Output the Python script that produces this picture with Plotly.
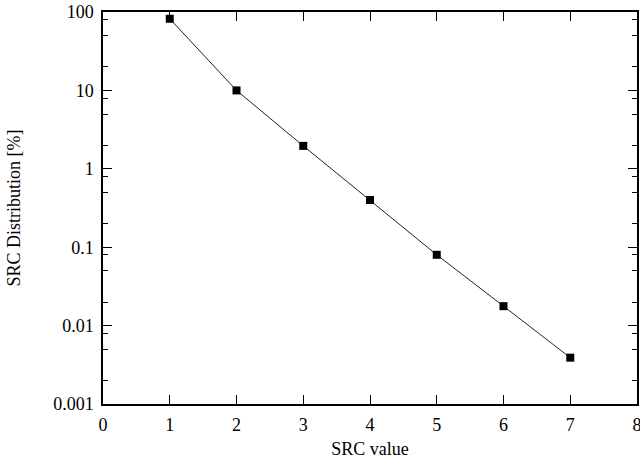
import plotly.graph_objects as go

# SRC value vs. its share of the distribution (percent)
src_values = [1, 2, 3, 4, 5, 6, 7]
distribution_pct = [82, 10, 1.96, 0.40, 0.08, 0.0177, 0.0039]

y_tick_vals = [100, 10, 1, 0.1, 0.01, 0.001]
y_tick_text = ["100", "10", "1", "0.1", "0.01", "0.001"]
y_minor_vals = [m * 10.0 ** k for k in range(-3, 2) for m in (2, 5, 8)]
x_tick_vals = [0, 1, 2, 3, 4, 5, 6, 7, 8]

font_family = "Liberation Serif"

fig = go.Figure()
fig.add_trace(go.Scatter(
    x=src_values,
    y=distribution_pct,
    mode="lines+markers",
    line=dict(color="#222222", width=1),
    marker=dict(symbol="square", size=8, color="black"),
    showlegend=False,
))

fig.update_layout(
    width=640,
    height=462,
    margin=dict(l=103, r=3, t=12, b=58),
    paper_bgcolor="white",
    plot_bgcolor="white",
    font=dict(family=font_family, size=18, color="black"),
)

fig.update_xaxes(
    range=[0, 8],
    tickvals=x_tick_vals,
    ticks="inside",
    ticklen=9,
    tickwidth=1.2,
    tickcolor="black",
    ticklabelstandoff=4,
    ticklabeloverflow="allow",
    showline=True,
    linecolor="black",
    linewidth=1.5,
    mirror="ticks",
    showgrid=False,
    zeroline=False,
    automargin=False,
    title=dict(text="SRC value", font=dict(size=18), standoff=8),
    tickfont=dict(size=18),
)

fig.update_yaxes(
    type="log",
    range=[-3, 2],
    tickvals=y_tick_vals,
    ticktext=y_tick_text,
    ticks="inside",
    ticklen=9,
    tickwidth=1.2,
    tickcolor="black",
    ticklabelstandoff=4,
    ticklabeloverflow="allow",
    minor=dict(tickvals=y_minor_vals, ticks="inside", ticklen=5,
               tickwidth=1.2, tickcolor="black", showgrid=False),
    showline=True,
    linecolor="black",
    linewidth=1.5,
    mirror="ticks",
    showgrid=False,
    zeroline=False,
    automargin=False,
    title=dict(text="SRC Distribution [%]", font=dict(size=18), standoff=28),
    tickfont=dict(size=18),
)

fig.write_html("out.html")
